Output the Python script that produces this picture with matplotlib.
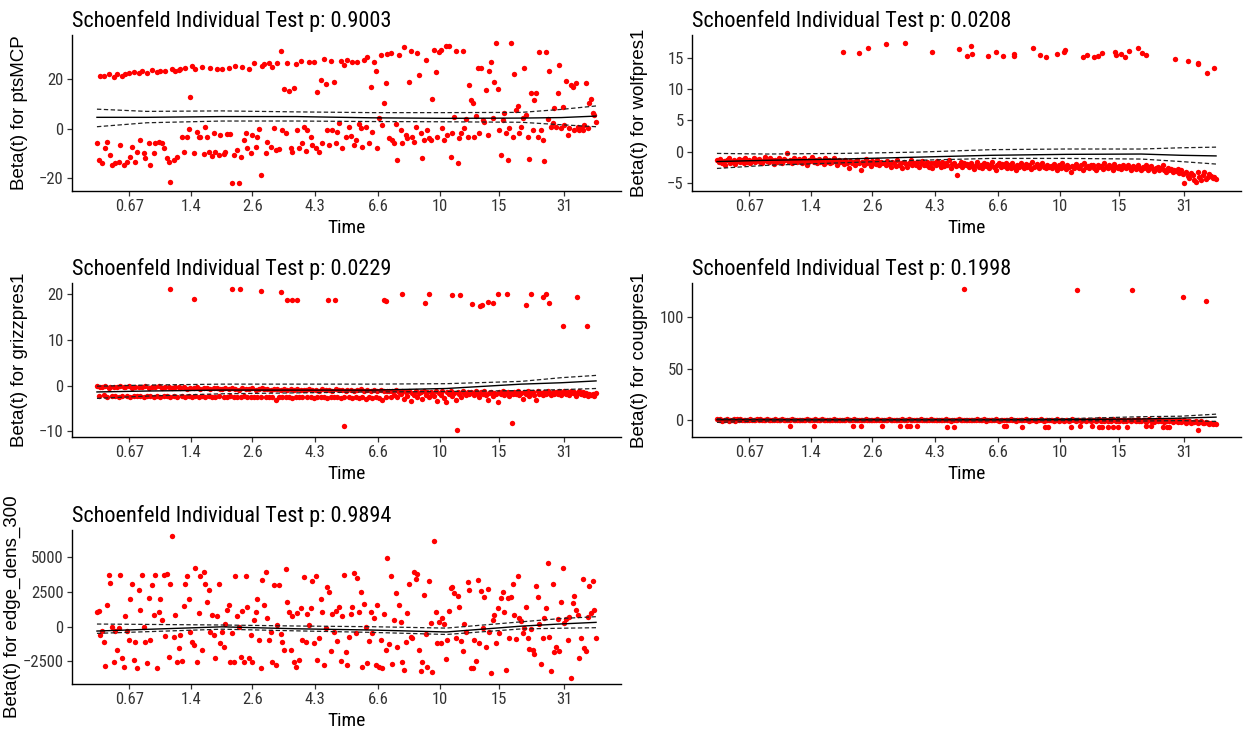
import numpy as np
import matplotlib
matplotlib.use('Agg')
import matplotlib.pyplot as plt
from matplotlib import font_manager

plt.rcParams['font.family'] = ['Liberation Sans', 'DejaVu Sans']

# the reference uses a condensed sans for horizontal text
installed = {f.name for f in font_manager.fontManager.ttflist}
if 'Roboto Condensed' in installed:
    narrow = ['Roboto Condensed', 'Liberation Sans']
    title_size, tick_size, xlab_size = 16, 12, 14
else:
    narrow = ['Liberation Sans', 'DejaVu Sans']
    title_size, tick_size, xlab_size = 11.5, 10, 12

# DATA
# transformed time axis: break positions and their labels
time_breaks = [0.0646, 0.188, 0.311, 0.436, 0.563, 0.687, 0.805, 0.936]
time_labels = ['0.67', '1.4', '2.6', '4.3', '6.6', '10', '15', '31']

# knots of the smoothed beta(t) curve and its band
curve_x = [0, 0.1, 0.25, 0.4, 0.55, 0.7, 0.85, 0.93, 1.0]

# ptsMCP, residuals in event order
pts_resid = [
    -5.7, -12.7, 21.4, -13.7, 21.5, -7.9, -5.3, 22.1, -10.6, -14.7, 21.0, -14.0, 22.2, -13.3, -6.6, 21.3, -14.7, 22.1, -13.3, 22.7, -11.3, -7.3, 23.0, -13.3, -9.3,
    22.6, -4.6, 23.3, -10.0, -12.0, 22.5, -5.9, -14.7, 23.7, -10.0, -5.9, 23.0, -5.2, 23.5, -5.7, -7.9, 23.2, -12.0, -13.3, -21.4, 24.0, -12.7, 23.4, -11.3, 23.8,
    24.0, -3.2, -9.3, 24.6, -3.2, -0.3, 12.9, 25.2, -9.7, 24.2, -1.2, -3.2, -3.5, 24.8, -10.2, 0.8, -3.2, -9.3, 24.5, -11.0, -1.6, -9.3, 24.3, -10.6, -2.6,
    24.0, -10.2, -9.3, -2.3, 24.5, -2.2, -22.1, -10.6, 25.2, -8.6, -21.8, -11.3, 25.0, -4.6, -1.9, -7.9, 24.0, -10.0, -2.6, 26.4, -7.3, -3.2, -0.3, -18.7, 25.5,
    26.0, -10.0, -5.2, 26.5, -7.3, 25.0, 0.1, -8.6, 26.6, -8.3, 31.5, -0.5, 15.9, -1.9, 26.7, 15.2, -7.9, -9.3, 16.3, 26.0, -0.5, -7.9, 27.2, -5.9, 0.8,
    -8.9, -0.5, 27.0, -3.2, -6.6, 26.8, -7.9, 14.9, -9.3, 19.6, -5.9, 28.0, 17.9, -0.5, -6.6, 27.2, -0.5, 18.7, -5.9, -1.2, 2.2, 27.5, -7.9, 25.6, -3.2,
    27.7, 0.8, -3.0, 27.1, -6.6, -4.6, 26.8, 1.9, 0.1, -7.5, 27.7, 0.8, 29.1, -5.9, 16.7, -1.2, 26.8, 23.4, -7.9, 4.2, 29.7, 1.5, 10.5, 18.3, 30.4,
    -3.9, 30.7, -4.6, -5.9, 1.9, -12.7, 30.0, -0.5, -5.9, 33.1, -2.6, -3.9, 18.7, 31.5, -3.2, -5.2, 0.8, 30.8, 21.7, -1.9, -12.0, -4.6, 27.7, -0.5, -3.9,
    -4.6, 12.0, 31.8, 23.0, -3.2, 31.1, 32.0, 0.1, -4.6, 33.5, -2.6, 33.5, -11.3, -1.9, 4.8, 31.4, -13.7, -3.9, -1.9, 31.4, 0.1, 3.8, -3.2, 17.6, 11.6,
    10.2, -3.2, 5.1, 24.4, -1.9, 24.4, 3.5, 2.8, 15.6, -2.6, 23.4, 27.1, 4.2, 18.7, 34.7, 15.9, -0.5, -10.6, 3.5, 6.2, -1.9, -12.7, 0.1, 34.5, -3.2,
    22.3, 7.5, 9.2, -1.9, 0.8, 4.2, 24.4, 5.5, -3.2, -12.4, 14.3, -0.5, 11.6, 14.3, -3.2, 31.1, -0.5, -4.6, -12.9, 31.1, 3.8, 23.4, 0.8, 2.2, 8.2,
    0.8, 14.3, 25.7, 0.1, 8.9, 1.5, 19.2, -2.6, 0.1, 17.6, 17.0, -0.5, 18.3, 0.8, -0.5, 0.1, -0.5, 1.5, 18.3, 0.1, 10.5, 12.2, 6.2, 5.5, 2.8,
]
pts_fit = [4.6, 4.6, 4.9, 4.9, 4.4, 4.2, 4.3, 4.5, 5.1]
pts_upper = [7.9, 7.0, 7.2, 6.8, 6.5, 6.5, 6.6, 7.8, 9.2]
pts_lower = [0.8, 2.4, 3.1, 3.1, 2.9, 2.8, 2.6, 1.6, 0.8]

# wolfpres1: main band in event order plus the separated residuals
wolf_resid = [
    -1.3, -1.6, -1.2, -1.9, -1.5, -2.2, -1.4, -1.1, -1.8, -1.6, -1.3, -2.0, -1.5, -1.2, -1.7, -1.4, -1.9, -1.1, -1.6, -1.3, -1.8, -1.5, -1.0, -1.7, -1.4,
    -1.2, -1.6, -1.9, -1.3, -0.9, -1.5, -1.7, -1.1, -1.4, -2.0, -1.3, -1.6, -1.0, -1.5, -1.8, -1.2, -1.4, -0.2, -1.7, -1.3, -1.9, -1.1, -1.5, -1.6, -1.2,
    -1.4, -1.8, -1.1, -1.6, -2.1, -1.3, -1.5, -0.9, -1.7, -1.4, -1.9, -1.2, -1.6, -1.5, -2.0, -1.1, -1.7, -1.3, -1.8, -1.6, -1.0, -1.5, -2.2, -1.4, -1.7,
    -1.6, -2.0, -1.3, -1.8, -2.6, -1.5, -1.9, -1.7, -2.2, -1.4, -1.8, -2.9, -1.6, -2.1, -1.2, -1.9, -1.7, -2.3, -1.5, -1.8, -2.0, -1.4, -2.2, -1.7, -1.9,
    -1.8, -2.2, -1.5, -2.0, -2.5, -1.7, -1.9, -2.3, -1.4, -2.1, -1.8, -2.6, -1.6, -2.0, -2.4, -1.9, -1.3, -2.2, -1.8, -2.1, -1.7, -2.5, -1.9, -1.5, -2.2,
    -2.1, -1.6, -2.4, -1.9, -2.7, -1.8, -2.2, -1.5, -2.0, -2.5, -1.7, -2.3, -1.9, -2.1, -1.4, -2.6, -2.0, -1.8, -2.3, -3.7, -2.1, -1.6, -2.4, -1.9, -2.2,
    -2.0, -2.5, -1.8, -2.3, -2.8, -2.1, -1.6, -2.4, -2.2, -2.7, -1.9, -2.3, -2.0, -2.6, -2.1, -1.7, -2.4, -2.9, -2.2, -1.9, -2.5, -2.0, -2.3, -1.8, -2.6,
    -2.2, -2.6, -1.9, -2.4, -2.9, -2.1, -2.5, -1.8, -2.3, -2.7, -2.0, -2.4, -2.2, -2.8, -1.7, -2.5, -2.3, -2.0, -2.6, -2.2, -1.9, -2.4, -2.7, -2.1, -2.5,
    -2.3, -2.7, -2.0, -2.5, -3.0, -2.2, -2.6, -1.9, -2.4, -2.8, -2.1, -2.5, -3.3, -2.3, -2.7, -2.0, -2.4, -2.6, -2.2, -2.9, -1.8, -2.5, -2.3, -2.7, -2.1,
    -2.2, -2.6, -2.9, -2.1, -2.5, -2.3, -2.8, -1.9, -2.4, -2.7, -2.2, -2.5, -3.0, -2.0, -2.4, -2.6, -2.3, -2.8, -2.1, -2.5, -2.7, -2.2, -2.4, -2.9, -2.3,
    -2.5, -2.8, -2.2, -2.6, -3.0, -2.4, -2.7, -2.1, -2.9, -2.5, -2.3, -2.8, -3.1, -2.6, -2.4, -3.0, -2.7, -2.2, -2.9, -3.2, -2.6, -3.0, -2.8, -3.3, -2.9,
    -3.1, -2.8, -3.4, -3.0, -3.6, -5.1, -3.2, -3.9, -4.2, -3.5, -3.8, -4.5, -4.8, -3.3, -4.0, -4.6, -3.7, -3.2, -4.4, -4.1, -3.6, -3.9, -4.3, -4.0, -4.4,
]
wolf_out_x = [0.252, 0.284, 0.302, 0.339, 0.377, 0.430, 0.485, 0.501, 0.510, 0.511, 0.544, 0.559, 0.573, 0.595, 0.596,
              0.634, 0.647, 0.660, 0.681, 0.696, 0.697, 0.733, 0.742, 0.755, 0.764, 0.771, 0.797, 0.800, 0.809, 0.818,
              0.825, 0.844, 0.851, 0.859, 0.917, 0.944, 0.963, 0.964, 0.981, 0.995]
wolf_out_y = [15.9, 15.7, 16.6, 17.1, 17.4, 15.9, 16.3, 15.3, 16.8, 15.5, 15.3, 15.9, 15.3, 15.6, 15.3,
              16.6, 15.4, 15.1, 15.6, 15.9, 16.2, 15.1, 15.4, 15.1, 15.3, 15.7, 15.9, 15.4, 15.6, 15.1,
              16.1, 16.6, 15.8, 15.4, 14.7, 14.4, 13.9, 14.2, 12.6, 13.4]
wolf_fit = [-1.6, -1.4, -1.2, -0.9, -0.6, -0.45, -0.4, -0.6, -0.7]
wolf_upper = [-0.3, -0.4, -0.3, -0.1, 0.3, 0.4, 0.4, 0.6, 0.7]
wolf_lower = [-2.7, -2.2, -1.8, -1.4, -1.1, -1.1, -1.2, -1.6, -2.0]

# grizzpres1
grizz_resid = [
    -0.2, -2.3, -0.4, -0.3, -2.1, -0.2, -2.4, -0.5, -0.3, -2.2, -0.3, -2.3, -0.4, -2.5, -0.2, -2.2, -0.3, -0.4, -2.3, -0.2, -2.4, -0.5, -2.2, -0.3, -2.3,
    -0.4, -2.2, -0.3, -2.4, -0.2, -2.3, -0.5, -2.2, -0.3, -2.5, -0.4, -2.3, -0.2, -2.4, -0.6, -2.2, -0.3, -2.3, -0.4, -2.4, -0.5, -2.2, -0.3, -2.5, -0.4,
    -0.6, -2.3, -0.4, -2.4, -0.7, -2.2, -0.5, -2.5, -0.6, -2.3, -0.4, -2.4, -0.8, -2.2, -0.5, -2.6, -0.6, -2.3, -0.7, -2.4, -0.5, -2.5, -0.6, -2.3, -0.8,
    -0.7, -2.4, -0.5, -2.5, -0.8, -2.3, -0.6, -2.6, -0.7, -2.4, -0.9, -2.5, -0.6, -2.3, -0.8, -2.6, -0.7, -2.4, -0.5, -2.5, -0.9, -2.4, -0.7, -2.6, -0.6,
    -0.8, -2.5, -0.7, -2.4, -1.0, -2.6, -0.8, -3.2, -0.7, -2.5, -0.9, -2.4, -0.8, -2.6, -1.0, -2.5, -0.7, -2.7, -0.9, -2.4, -0.8, -2.6, -1.0, -2.5, -0.9,
    -0.9, -2.6, -0.8, -2.5, -1.0, -2.7, -0.9, -2.5, -1.1, -2.6, -0.8, -2.4, -1.0, -2.7, -0.9, -2.5, -1.1, -2.6, -0.8, -2.5, -1.0, -2.7, -0.9, -2.6, -1.1,
    -1.0, -2.6, -0.9, -2.8, -1.1, -2.5, -1.0, -2.7, -0.8, -2.6, -1.2, -3.0, -1.0, -2.5, -1.1, -2.8, -0.9, -2.6, -1.2, -2.7, -1.0, -3.1, -1.1, -2.6, -1.3,
    -1.1, -2.4, -1.3, -2.0, -1.0, -2.6, -1.4, -1.8, -1.2, -2.9, -1.5, -2.2, -1.1, -3.3, -1.6, -2.0, -1.3, -2.5, -1.7, -1.4, -3.0, -1.2, -2.1, -1.5, -2.4,
    -1.4, -1.8, -2.3, -1.2, -3.4, -1.6, -2.0, -1.3, -2.7, -3.6, -1.5, -1.9, -1.2, -2.2, -1.7, -3.2, -1.4, -1.8, -2.5, -1.3, -1.6, -2.0, -1.5, -1.9, -1.4,
    -1.6, -2.1, -1.3, -1.8, -2.4, -1.5, -1.9, -1.2, -2.0, -3.1, -1.7, -1.4, -2.2, -1.6, -1.9, -3.6, -1.5, -1.8, -1.3, -2.1, -1.7, -1.4, -2.3, -1.6, -1.9,
    -1.5, -1.9, -1.3, -2.0, -1.6, -3.0, -1.4, -1.8, -1.2, -2.2, -1.7, -1.5, -2.0, -3.1, -1.3, -1.8, -1.6, -2.1, -1.4, -1.9, -1.2, -1.7, -2.0, -1.5, -1.8,
    -1.4, -1.8, -1.2, -2.0, -1.6, -1.3, -1.9, -1.5, -2.1, -1.1, -1.7, -1.4, -2.2, -1.6, -1.3, -1.9, -1.5, -2.0, -1.7, -2.3, -1.8, -2.1, -1.9, -2.2, -1.7,
]
grizz_out_x = [0.146, 0.194, 0.271, 0.287, 0.329, 0.368, 0.381, 0.390, 0.401, 0.462, 0.476, 0.494, 0.575, 0.580, 0.611,
               0.658, 0.665, 0.711, 0.722, 0.728, 0.752, 0.767, 0.771, 0.784, 0.794, 0.803, 0.821, 0.831, 0.859, 0.869,
               0.894, 0.900, 0.906, 0.933, 0.962, 0.981]
grizz_out_y = [20.9, 18.9, 20.9, 20.9, 20.5, 20.3, 18.7, 18.7, 18.7, 18.5, 18.5, -8.8, 18.7, 18.4, 20.0,
               18.0, 19.8, 19.6, -9.7, 19.6, 17.8, 17.3, 17.5, 18.2, 18.0, 20.0, 20.0, -8.1, 17.5, 20.0,
               19.3, 20.0, 18.0, 13.0, 19.2, 13.0]
grizz_fit = [-1.4, -1.2, -1.0, -1.0, -1.0, -0.65, 0.3, 0.6, 1.0]
grizz_upper = [-0.15, 0.1, 0.3, 0.3, 0.3, 0.4, 0.9, 1.7, 2.2]
grizz_lower = [-2.8, -2.3, -1.8, -1.6, -1.4, -1.3, -1.1, -0.9, -0.65]

# cougpres1
coug_resid = [
    0.4, -0.3, 1.2, -0.8, 0.2, -0.5, 0.9, -1.4, 0.1, -0.2, 0.6, -0.7, 0.3, -0.1, 0.5, -0.4, 0.0, -0.6, 0.2, -0.3, 0.4, -0.2, 0.1, -0.5, 0.3,
    -0.2, 0.3, -0.5, 0.1, -0.3, 0.4, -0.1, 0.2, -0.6, 0.0, 0.3, -0.4, 0.1, -0.2, 0.5, -0.3, 0.2, -0.1, 0.0, -0.5, 0.3, -0.2, 0.1, -0.4, 0.2,
    0.1, -0.4, 0.2, -0.1, 0.3, -0.6, 0.0, 0.2, -0.3, 0.4, -0.2, 0.1, -0.5, 0.3, 0.0, -0.2, 0.2, -0.4, 0.1, -0.1, 0.3, -0.3, 0.0, 0.2, -0.5,
    -0.3, 0.2, -0.1, 0.4, -0.4, 0.1, -0.2, 0.3, -0.6, 0.0, 0.2, -0.3, 0.1, -0.5, 0.3, -0.1, 0.2, -0.4, 0.0, 0.1, -0.2, 0.4, -0.3, 0.1, -0.1,
    0.2, -0.5, 0.0, 0.3, -0.2, 0.1, -0.4, 0.2, -0.1, 0.0, -0.6, 0.3, -0.3, 0.1, -0.2, 0.4, -0.5, 0.0, 0.2, -0.3, 0.1, -0.1, 0.3, -0.4, 0.0,
    -0.4, 0.1, -0.2, 0.3, -0.6, 0.0, 0.2, -0.3, 0.1, -0.5, 0.2, -0.1, 0.4, -0.3, 0.0, -0.7, 0.2, -0.2, 0.1, -0.4, 0.3, -0.1, 0.0, -0.5, 0.2,
    0.0, -0.3, 0.2, -0.6, 0.1, -0.2, 0.4, -0.4, 0.0, -0.1, 0.3, -0.7, 0.1, -0.3, 0.2, -0.5, 0.0, 0.3, -0.2, -0.8, 0.1, -0.4, 0.2, -0.1, -0.6,
    -0.2, 0.3, -0.5, 0.0, -0.8, 0.2, -0.3, 0.1, -0.6, -0.1, 0.3, -0.4, -0.9, 0.1, -0.2, 0.2, -0.7, 0.0, -0.3, 0.4, -0.5, -1.0, 0.1, -0.2, 0.0,
    -0.5, 0.1, -0.8, -0.2, 0.3, -1.1, -0.4, 0.0, -0.7, 0.2, -0.3, -1.2, -0.1, 0.3, -0.6, -0.9, 0.1, -0.4, -1.3, 0.0, -0.2, -0.8, 0.2, -0.5, -1.0,
    -0.3, 0.2, -1.1, -0.6, 0.4, -0.9, -0.2, -1.4, 0.1, -0.7, -0.3, -1.2, 0.3, -0.5, -1.6, -0.1, -0.8, 0.2, -1.0, -0.4, -1.5, 0.0, -0.6, -1.1, -0.2,
    -0.3, -1.1, 0.4, -0.8, -1.5, 0.2, -0.6, -1.9, -0.4, 0.3, -1.2, -0.7, -2.2, -0.2, -1.0, 0.5, -1.6, -0.5, -2.4, -0.9, 0.1, -1.3, -0.6, -2.0, -1.1,
    -0.8, -1.7, -0.4, -2.3, -1.2, -0.6, -2.8, -1.5, -0.9, -3.0, -1.9, -2.6, -1.1, -3.4, -2.2, -1.6, -2.9, -3.6, -2.4, -3.1, -3.8, -2.7, -4.2, -3.5, -4.6,
]
coug_out_x = [0.147, 0.195, 0.272, 0.288, 0.330, 0.367, 0.380, 0.387, 0.400, 0.461, 0.475, 0.576, 0.579, 0.611, 0.658,
              0.664, 0.710, 0.728, 0.752, 0.766, 0.771, 0.784, 0.794, 0.803, 0.821, 0.859, 0.869, 0.894, 0.901, 0.905,
              0.963, 0.495, 0.722, 0.831, 0.934, 0.980]
coug_out_y = [-6.5, -6.5, -6.5, -6.5, -6.5, -6.5, -6.5, -6.5, -6.5, -6.8, -6.8, -6.5, -6.5, -7.0, -6.8,
              -6.8, -6.8, -6.5, -6.5, -7.2, -7.5, -6.8, -6.8, -6.8, -6.8, -6.5, -6.5, -6.8, -6.8, -6.8,
              -9.7, 127.6, 126.6, 126.6, 119.5, 116.2]
coug_fit = [0.0, 0.0, 0.0, 0.0, 0.0, 0.2, 0.8, 1.6, 2.6]
coug_upper = [1.0, 0.6, 0.6, 0.6, 0.6, 1.0, 3.0, 3.5, 5.5]
coug_lower = [-2.5, -1.2, -1.0, -1.0, -1.0, -0.8, -1.2, -0.8, -1.6]

# edge_dens_300
edge_resid = [
    1034, 1130, -601, -313, -1082, -2813, 1563, 3726, 3125, 0, -2524, -313, -1683, -120, 3726, -2236, -2885, 793, -313, -962, 1995, 3053, -2404, -1130, -3005,
    2644, 1202, 3726, 0, -1130, -2644, 2043, -962, 3005, 841, 3726, -3005, 1034, 1995, 481, 3726, -673, 3774, -2164, 3053, 6539, -721, 841, -2572, -1563,
    -601, -2476, 1490, 3053, 3678, 1995, -361, -1130, -1322, 4207, -2572, 962, 3678, -1683, 3967, 3053, 1803, 2644, -361, 841, -601, -2284, 793, 3053, -1202,
    -361, -1442, 168, 1202, 1563, -2524, -481, -2572, 3678, 793, 0, -2164, 1130, -2572, 3678, 1442, -2236, -601, -2524, 481, 1034, 1995, -962, -3005, 3366,
    1563, 3967, 601, -962, -361, -2524, 3005, -2765, 120, 3005, -553, -1082, -1683, 4159, 1755, 1034, -1683, 793, -2524, -2885, 962, -2404, 1370, -962, 3606,
    -1082, 889, 120, 1370, 3293, -1202, 3678, -2404, -841, 1995, 1034, -2765, -120, 2885, 2476, -1755, 889, -409, 1130, -1034, 1442, -2476, 793, 3726, -1803,
    -2765, -721, 889, 1442, 3846, -481, 3486, 1034, 2476, -2885, 1611, 0, -2644, -1034, 1034, -481, 601, -2765, 1563, -2885, -962, -3005, 889, -1683, 4928,
    -1274, 3678, -2716, 481, 2404, -1442, 1563, 361, -2524, -3125, -1082, 962, 3053, -721, -841, 3967, 3438, 3774, -1683, -3197, -2524, 2284, -553, -2885, 3293,
    240, -3245, 6178, 1034, -1202, 361, -1202, 649, 168, -2332, -962, 1130, 2765, 2885, 2404, -793, 2236, 1442, -1034, -1755, 168, -361, 3197, 2644, -3005,
    -3005, -962, -2476, 3366, -1202, 2572, -120, 2164, -1442, 2716, -409, -3366, 481, 841, -1202, 1370, -481, 2043, 2524, 1034, -3125, 2043, -793, 2164, 3053,
    841, -889, 3678, 601, 409, -481, -72, 1442, -841, -1611, -168, -1683, -1995, 2957, 2164, 168, -2716, -793, 649, 1322, 4568, -721, -3197, 3053, -1851,
    -1442, 553, -1755, 1803, 4255, 240, 553, -962, 721, -3678, 1683, 2236, 1202, 841, -2284, -841, 3438, -1563, -1755, 721, 2957, 962, 3293, 1202, -793,
]
edge_fit = [-313, -190, -10, -150, -240, -380, 40, 200, 313]
edge_upper = [192, 165, 123, 50, 0, -100, 350, 590, 721]
edge_lower = [-481, -360, -180, -300, -409, -560, -160, -110, -72]

# p values of the individual tests
p_values = ['0.9003', '0.0208', '0.0229', '0.1998', '0.9894']
covariates = ['ptsMCP', 'wolfpres1', 'grizzpres1', 'cougpres1', 'edge_dens_300']


# DATA VISUALIZATION
fig = plt.figure(figsize=(12.43, 7.34), dpi=100)
W, H = 1243, 734

def make_axes(left, top, right, bottom):
    return fig.add_axes([left / W, 1 - bottom / H, (right - left) / W, (bottom - top) / H])

axes = [
    make_axes(72, 35, 621, 191),
    make_axes(692, 35, 1241, 191),
    make_axes(72, 283, 621, 437),
    make_axes(692, 283, 1241, 437),
    make_axes(72, 530, 621, 684),
]

panels = [
    (pts_resid, None, None, pts_fit, pts_upper, pts_lower, (-25.2, 37.9), [-20, 0, 20]),
    (wolf_resid, wolf_out_x, wolf_out_y, wolf_fit, wolf_upper, wolf_lower, (-6.3, 18.6), [-5, 0, 5, 10, 15]),
    (grizz_resid, grizz_out_x, grizz_out_y, grizz_fit, grizz_upper, grizz_lower, (-11.2, 22.3), [-10, 0, 10, 20]),
    (coug_resid, coug_out_x, coug_out_y, coug_fit, coug_upper, coug_lower, (-16.8, 133.5), [0, 50, 100]),
    (edge_resid, None, None, edge_fit, edge_upper, edge_lower, (-4130, 6970), [-2500, 0, 2500, 5000]),
]

for i, (ax, panel) in enumerate(zip(axes, panels)):
    resid, out_x, out_y, fit, upper, lower, ylim, yticks = panel
    # events sit at their rank on the transformed time scale
    event_x = np.linspace(0, 1, len(resid))
    ax.scatter(event_x, resid, s=15, color='#FF0000', linewidths=0, zorder=2)
    if out_x is not None:
        ax.scatter(out_x, out_y, s=15, color='#FF0000', linewidths=0, zorder=2)

    ax.plot(curve_x, fit, color='black', lw=1.0, zorder=3)
    ax.plot(curve_x, upper, color='#222222', lw=0.9, ls=(0, (3.5, 2)), zorder=3)
    ax.plot(curve_x, lower, color='#222222', lw=0.9, ls=(0, (3.5, 2)), zorder=3)

    ax.set_xlim(-0.05, 1.05)
    ax.set_ylim(*ylim)
    ax.set_xticks(time_breaks)
    ax.set_xticklabels(time_labels)
    ax.set_yticks(yticks)

    for side in ['top', 'right']:
        ax.spines[side].set_visible(False)
    for side in ['left', 'bottom']:
        ax.spines[side].set_color('black')
        ax.spines[side].set_linewidth(1.0)
    ax.tick_params(direction='out', length=3.5, width=0.9, color='#333333',
                   labelcolor='#333333', labelsize=tick_size, pad=2.5)
    for lab in ax.get_xticklabels() + ax.get_yticklabels():
        lab.set_family(narrow)

    ax.set_title(f'Schoenfeld Individual Test p: {p_values[i]}', loc='left',
                 fontsize=title_size, pad=6, color='black', family=narrow)
    ax.set_xlabel('Time', fontsize=xlab_size, color='black', family=narrow)
    ax.xaxis.set_label_coords(0.5, -0.18)
    ax.set_ylabel(f'Beta(t) for {covariates[i]}', fontsize=13.5, color='black')
    # the long edge_dens_300 label sits a little further out to clear "-2500"
    ax.yaxis.set_label_coords(-0.093 if i == 4 else -0.08, 0.5)

plt.savefig('out.png', dpi=100)
